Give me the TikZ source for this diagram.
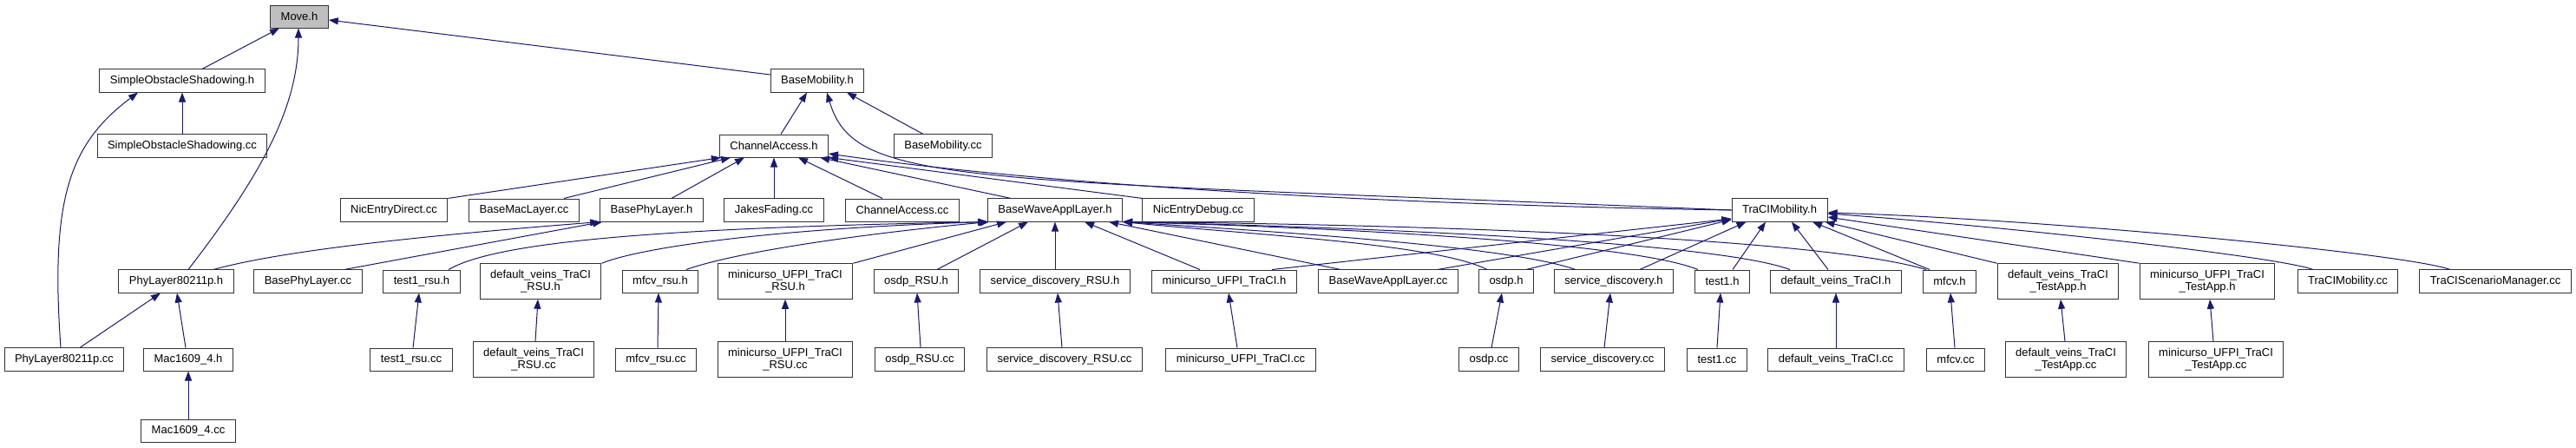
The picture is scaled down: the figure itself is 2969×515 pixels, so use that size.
\documentclass[tikz,border=0pt]{standalone}
\usepackage{fontspec}
\setmainfont{Liberation Sans}
\usetikzlibrary{arrows.meta}
\definecolor{edgeblue}{RGB}{25,25,112}
\definecolor{rootgray}{RGB}{191,191,191}

\begin{document}
\begin{tikzpicture}[x=1pt, y=1pt,
	file/.style={draw=black!80, line width=1pt, fill=white, inner xsep=12pt, inner ysep=7pt, minimum height=26pt, align=center, font=\fontsize{13}{14.5}\selectfont},
	incl/.style={draw=edgeblue, line width=1pt, -{Triangle[length=11pt, width=8pt]}}]
	\useasboundingbox (0,0) rectangle (2969,-515);

	\node[file, fill=rootgray] (move) at (345,-19){Move.h};

	\node[file] (sosh) at (210,-93){SimpleObstacleShadowing.h};
	\node[file] (bmh) at (942,-93){BaseMobility.h};

	\node[file] (soscc) at (210,-168){SimpleObstacleShadowing.cc};
	\node[file] (cah) at (892,-168){ChannelAccess.h};
	\node[file] (bmcc) at (1087,-168){BaseMobility.cc};

	\node[file] (nedcc) at (454,-242){NicEntryDirect.cc};
	\node[file] (bmaccc) at (604,-242){BaseMacLayer.cc};
	\node[file] (bphh) at (751,-242){BasePhyLayer.h};
	\node[file] (jfcc) at (892,-242){JakesFading.cc};
	\node[file] (cacc) at (1040,-242){ChannelAccess.cc};
	\node[file] (bwalh) at (1216,-242){BaseWaveApplLayer.h};
	\node[file] (nedbcc) at (1381,-242){NicEntryDebug.cc};
	\node[file] (tmh) at (2051,-242){TraCIMobility.h};

	\node[file] (phyh) at (203,-324){PhyLayer80211p.h};
	\node[file] (bphcc) at (355,-324){BasePhyLayer.cc};
	\node[file] (t1rsuh) at (486,-324){test1\_rsu.h};
	\node[file] (dvrsuh) at (623,-324){default\_veins\_TraCI\\\_RSU.h};
	\node[file] (mrsuh) at (761,-324){mfcv\_rsu.h};
	\node[file] (mursuh) at (905,-324){minicurso\_UFPI\_TraCI\\\_RSU.h};
	\node[file] (osdprsuh) at (1056,-324){osdp\_RSU.h};
	\node[file] (sdrsuh) at (1216,-324){service\_discovery\_RSU.h};
	\node[file] (muh) at (1411,-324){minicurso\_UFPI\_TraCI.h};
	\node[file] (bwalcc) at (1600,-324){BaseWaveApplLayer.cc};
	\node[file] (osdph) at (1736,-324){osdp.h};
	\node[file] (sdh) at (1860,-324){service\_discovery.h};
	\node[file] (t1h) at (1985,-324){test1.h};
	\node[file] (dvh) at (2116,-324){default\_veins\_TraCI.h};
	\node[file] (mfcvh) at (2247,-324){mfcv.h};
	\node[file] (dvtah) at (2372,-324){default\_veins\_TraCI\\\_TestApp.h};
	\node[file] (mutah) at (2544,-324){minicurso\_UFPI\_TraCI\\\_TestApp.h};
	\node[file] (tmcc) at (2706,-324){TraCIMobility.cc};
	\node[file] (tsmcc) at (2876,-324){TraCIScenarioManager.cc};

	\node[file] (phycc) at (74,-414){PhyLayer80211p.cc};
	\node[file] (mach) at (217,-414){Mac1609\_4.h};
	\node[file] (t1rsucc) at (474,-414){test1\_rsu.cc};
	\node[file] (dvrsucc) at (615,-414){default\_veins\_TraCI\\\_RSU.cc};
	\node[file] (mrsucc) at (756,-414){mfcv\_rsu.cc};
	\node[file] (mursucc) at (905,-414){minicurso\_UFPI\_TraCI\\\_RSU.cc};
	\node[file] (osdprsucc) at (1060,-414){osdp\_RSU.cc};
	\node[file] (sdrsucc) at (1227,-414){service\_discovery\_RSU.cc};
	\node[file] (mucc) at (1430,-414){minicurso\_UFPI\_TraCI.cc};
	\node[file] (osdpcc) at (1716,-414){osdp.cc};
	\node[file] (sdcc) at (1847,-414){service\_discovery.cc};
	\node[file] (t1cc) at (1979,-414){test1.cc};
	\node[file] (dvcc) at (2116,-414){default\_veins\_TraCI.cc};
	\node[file] (mfcvcc) at (2254,-414){mfcv.cc};
	\node[file] (dvtacc) at (2381,-414){default\_veins\_TraCI\\\_TestApp.cc};
	\node[file] (mutacc) at (2554,-414){minicurso\_UFPI\_TraCI\\\_TestApp.cc};

	\node[file] (maccc) at (217,-496){Mac1609\_4.cc};

	% Move.h, SimpleObstacleShadowing.h, BaseMobility.h
	\draw[incl] ([xshift=23pt]sosh.north) -- ([xshift=-23pt]move.south);
	\draw[incl] ([xshift=14pt]phyh.north) .. controls +(85,110) and +(0,-90) .. ([xshift=-1pt]move.south);
	\draw[incl] ([yshift=7pt]bmh.west) -- ([yshift=-4pt]move.east);
	\draw[incl] (soscc) -- (sosh);
	\draw[incl] ([xshift=-4pt]phycc.north) .. controls +(-12,170) and +(-80,-60) .. ([xshift=-51pt]sosh.south);
	\draw[incl] ([xshift=8pt]cah.north) -- ([xshift=-12pt]bmh.south);
	\draw[incl] ([xshift=-23pt]bmcc.north) -- ([xshift=34pt]bmh.south);
	\draw[incl] (tmh.west) .. controls +(-896,37) and +(32,-108) .. ([xshift=11pt]bmh.south);

	% ChannelAccess.h
	\draw[incl] (nedcc.north east) -- ([xshift=2pt]cah.south west);
	\draw[incl] ([xshift=46pt]bmaccc.north) -- ([xshift=-50pt]cah.south);
	\draw[incl] ([xshift=23pt]bphh.north) -- ([xshift=-34pt]cah.south);
	\draw[incl] (jfcc) -- (cah);
	\draw[incl] ([xshift=-23pt]cacc.north) -- ([xshift=28pt]cah.south);
	\draw[incl] ([xshift=-51pt]bwalh.north) -- ([xshift=-10pt]cah.south east);
	\draw[incl] (nedbcc.north west) -- (cah.south east);
	\draw[incl] (tmh.west) .. controls +(-496,8) and +(195,-28) .. ([yshift=-9pt]cah.east);

	% BasePhyLayer.h, PhyLayer80211p.h, Mac1609_4.h
	\draw[incl] ([xshift=43pt]phyh.north) .. controls +(84,23) and +(-192,-15) .. (bphh.south west);
	\draw[incl] ([xshift=42pt]bphcc.north) -- ([xshift=3pt]bphh.south west);
	\draw[incl] ([xshift=18pt]phycc.north) -- ([xshift=-18pt]phyh.south);
	\draw[incl] ([xshift=-3pt]mach.north) -- ([xshift=1pt]phyh.south);
	\draw[incl] (maccc) -- (mach);

	% BaseWaveApplLayer.h
	\draw[incl] ([xshift=31pt]t1rsuh.north) .. controls +(53,31) and +(-389,-7) .. (bwalh.south west);
	\draw[incl] (dvrsuh.north east) .. controls +(47,19) and +(-239,-7) .. ([xshift=1pt]bwalh.south west);
	\draw[incl] ([xshift=30pt]mrsuh.north) .. controls +(59,21) and +(-140,-13) .. ([xshift=2pt]bwalh.south west);
	\draw[incl] (mursuh.north east) -- ([xshift=-56pt]bwalh.south);
	\draw[incl] ([xshift=24pt]osdprsuh.north) -- ([xshift=-31pt]bwalh.south);
	\draw[incl] (sdrsuh) -- (bwalh);
	\draw[incl] ([xshift=-28pt]muh.north) -- ([xshift=34pt]bwalh.south);
	\draw[incl] ([xshift=-55pt]bwalcc.north) -- ([xshift=62pt]bwalh.south);
	\draw[incl] ([xshift=-22pt]osdph.north) .. controls +(-60,30) and +(150,-15) .. (bwalh.south east);
	\draw[incl] ([xshift=-44pt]sdh.north) .. controls +(-76,26) and +(206,-13) .. (bwalh.south east);
	\draw[incl] ([xshift=-28pt]t1h.north) .. controls +(-77,31) and +(256,-7) .. (bwalh.south east);
	\draw[incl] ([xshift=-53pt]dvh.north) .. controls +(-83,31) and +(306,-7) .. (bwalh.south east);
	\draw[incl] ([xshift=-27pt]mfcvh.north) .. controls +(-120,36) and +(356,-3) .. (bwalh.south east);

	% TraCIMobility.h
	\draw[incl] ([xshift=55pt]muh.north) -- ([yshift=-10pt]tmh.west);
	\draw[incl] ([xshift=57pt]bwalcc.north) -- ([yshift=-10pt]tmh.west);
	\draw[incl] ([xshift=23pt]osdph.north) -- ([yshift=-11pt]tmh.west);
	\draw[incl] ([xshift=30pt]sdh.north) -- ([xshift=17pt]tmh.south west);
	\draw[incl] ([xshift=12pt]t1h.north) -- ([xshift=-16pt]tmh.south);
	\draw[incl] ([xshift=-9pt]dvh.north) -- ([xshift=14pt]tmh.south);
	\draw[incl] ([xshift=-23pt]mfcvh.north) -- ([xshift=38pt]tmh.south);
	\draw[incl] (dvtah.north west) -- ([xshift=-3pt]tmh.south east);
	\draw[incl] (mutah.north west) -- ([yshift=-8pt]tmh.east);
	\draw[incl] ([xshift=-40pt]tmcc.north) .. controls +(-46,16) and +(194,-14) .. ([yshift=-4pt]tmh.east);
	\draw[incl] ([xshift=-52pt]tsmcc.north) .. controls +(-54,19) and +(244,-7) .. ([yshift=-3pt]tmh.east);

	% sources under their headers
	\draw[incl] ([xshift=2pt]t1rsucc.north) -- ([xshift=-3pt]t1rsuh.south);
	\draw[incl] ([xshift=2pt]dvrsucc.north) -- ([xshift=-3pt]dvrsuh.south);
	\draw[incl] ([xshift=2pt]mrsucc.north) -- ([xshift=-2pt]mrsuh.south);
	\draw[incl] (mursucc) -- (mursuh);
	\draw[incl] ([xshift=1pt]osdprsucc.north) -- ([xshift=1pt]osdprsuh.south);
	\draw[incl] ([xshift=-3pt]sdrsucc.north) -- ([xshift=3pt]sdrsuh.south);
	\draw[incl] ([xshift=-4pt]mucc.north) -- ([xshift=5pt]muh.south);
	\draw[incl] ([xshift=3pt]osdpcc.north) -- ([xshift=-5pt]osdph.south);
	\draw[incl] ([xshift=2pt]sdcc.north) -- ([xshift=-4pt]sdh.south);
	\draw[incl] (t1cc.north) -- ([xshift=-2pt]t1h.south);
	\draw[incl] (dvcc) -- (dvh);
	\draw[incl] ([xshift=-1pt]mfcvcc.north) -- ([xshift=1pt]mfcvh.south);
	\draw[incl] ([xshift=-1pt]dvtacc.north) -- ([xshift=3pt]dvtah.south);
	\draw[incl] ([xshift=-3pt]mutacc.north) -- ([xshift=3pt]mutah.south);
\end{tikzpicture}
\end{document}
